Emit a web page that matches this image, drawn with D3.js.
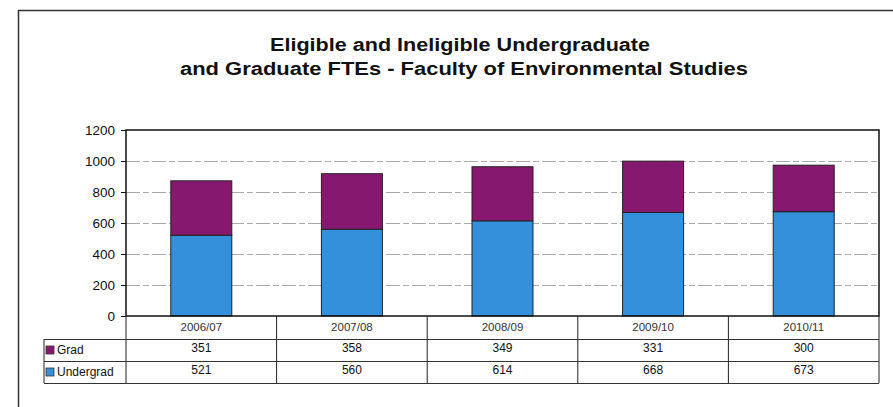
<!DOCTYPE html>
<html><head><meta charset="utf-8">
<script src="https://cdn.jsdelivr.net/npm/d3@7"></script>
<style>body{margin:0;background:#fff}svg{display:block}</style>
</head><body>
<svg id="c" width="893" height="407"></svg>
<script>
const categories = ["2006/07","2007/08","2008/09","2009/10","2010/11"];
const grad = [351,358,349,331,300];
const undergrad = [521,560,614,668,673];
const seriesNames = ["Grad","Undergrad"];
const yTicks = [0,200,400,600,800,1000,1200];
const titleLines = ["Eligible and Ineligible Undergraduate","and Graduate FTEs - Faculty of Environmental Studies"];

const colors = {Grad:"#86196f", Undergrad:"#3590dc"};
const svg = d3.select("#c");
const font = "Liberation Sans, Arial, sans-serif";

// outer frame
svg.append("line").attr("x1",18).attr("x2",893).attr("y1",10.5).attr("y2",10.5).attr("stroke","#333").attr("stroke-width",1.5);
svg.append("line").attr("x1",18.5).attr("x2",18.5).attr("y1",10).attr("y2",407).attr("stroke","#333").attr("stroke-width",1.5);

// title
const titleGeom = [{cx:460,y:51,len:380},{cx:464,y:75,len:568}];
svg.selectAll("text.title").data(titleLines).join("text")
  .attr("x",(d,i)=>titleGeom[i].cx).attr("y",(d,i)=>titleGeom[i].y)
  .attr("textLength",(d,i)=>titleGeom[i].len).attr("lengthAdjust","spacingAndGlyphs")
  .attr("text-anchor","middle").attr("font-family",font).attr("font-weight","bold")
  .attr("font-size",18).attr("fill","#111").text(d=>d);

const L=126, R=879, T=130, B=316;
const x = d3.scaleBand().domain(categories).range([L,R]);
const y = d3.scaleLinear().domain([0,1200]).range([B,T]);

// gridlines
svg.append("g").selectAll("line").data(yTicks.filter(t=>t>0&&t<1200)).join("line")
  .attr("x1",L).attr("x2",R).attr("y1",d=>Math.round(y(d))+0.5).attr("y2",d=>Math.round(y(d))+0.5)
  .attr("stroke","#aaa").attr("stroke-width",1).attr("stroke-dasharray","14,3,6,3");

// stacked bars
const data = categories.map((c,i)=>({cat:c, Undergrad:undergrad[i], Grad:grad[i]}));
const stack = d3.stack().keys(["Undergrad","Grad"])(data);
const bw = x.step()*0.405;
svg.append("g").selectAll("g").data(stack).join("g")
  .attr("fill",d=>colors[d.key])
  .selectAll("rect").data(d=>d).join("rect")
  .attr("x",d=>x(d.data.cat)+x.bandwidth()/2-bw/2)
  .attr("y",d=>y(d[1])).attr("width",bw).attr("height",d=>y(d[0])-y(d[1]))
  .attr("stroke","#222").attr("stroke-width",1);

// plot border
svg.append("rect").attr("x",L).attr("y",T).attr("width",R-L).attr("height",B-T)
  .attr("fill","none").attr("stroke","#111").attr("stroke-width",1.5);

// y axis
const yAxis = d3.axisLeft(y).tickValues(yTicks).tickSize(5).tickPadding(6).tickFormat(d3.format("d"));
const ga = svg.append("g").attr("transform",`translate(${L},0)`).call(yAxis);
ga.select(".domain").remove();
ga.selectAll("line").attr("stroke","#111");
ga.selectAll("text").attr("font-family",font).attr("font-size",13.5).attr("fill","#111");

// data table
const rowH = [316,339,361,383];
const tableLeft = 44;
const tg = svg.append("g");
const bounds = categories.map(c=>x(c)).concat([R]);
tg.selectAll("line.v").data(bounds).join("line")
  .attr("x1",d=>d).attr("x2",d=>d).attr("y1",B).attr("y2",rowH[3])
  .attr("stroke","#222").attr("stroke-width",1);
tg.append("line").attr("x1",tableLeft).attr("x2",tableLeft).attr("y1",rowH[1]).attr("y2",rowH[3]).attr("stroke","#222");
[1,2,3].forEach(i=>{
  tg.append("line").attr("x1",tableLeft).attr("x2",R).attr("y1",rowH[i]+0.5).attr("y2",rowH[i]+0.5)
    .attr("stroke","#333").attr("stroke-width",1);
});
tg.selectAll("text.cat").data(categories).join("text")
  .attr("x",d=>x(d)+x.bandwidth()/2).attr("y",331)
  .attr("text-anchor","middle").attr("font-family",font).attr("font-size",11.5).attr("fill","#333").text(d=>d);
const rows = [{name:"Grad",vals:grad},{name:"Undergrad",vals:undergrad}];
rows.forEach((r,ri)=>{
  const yc = (rowH[ri+1]+rowH[ri+2])/2;
  tg.append("rect").attr("x",46).attr("y",yc-4).attr("width",8).attr("height",8)
    .attr("fill",colors[r.name]).attr("stroke","#333").attr("stroke-width",0.8);
  tg.append("text").attr("x",57).attr("y",yc+4).attr("font-family",font).attr("font-size",12).attr("fill","#111").text(r.name);
  tg.selectAll(null).data(r.vals).join("text")
    .attr("x",(d,i)=>x(categories[i])+x.bandwidth()/2).attr("y",yc+2)
    .attr("text-anchor","middle").attr("font-family",font).attr("font-size",12).attr("fill","#111").text(d=>d);
});
</script>
</body></html>
